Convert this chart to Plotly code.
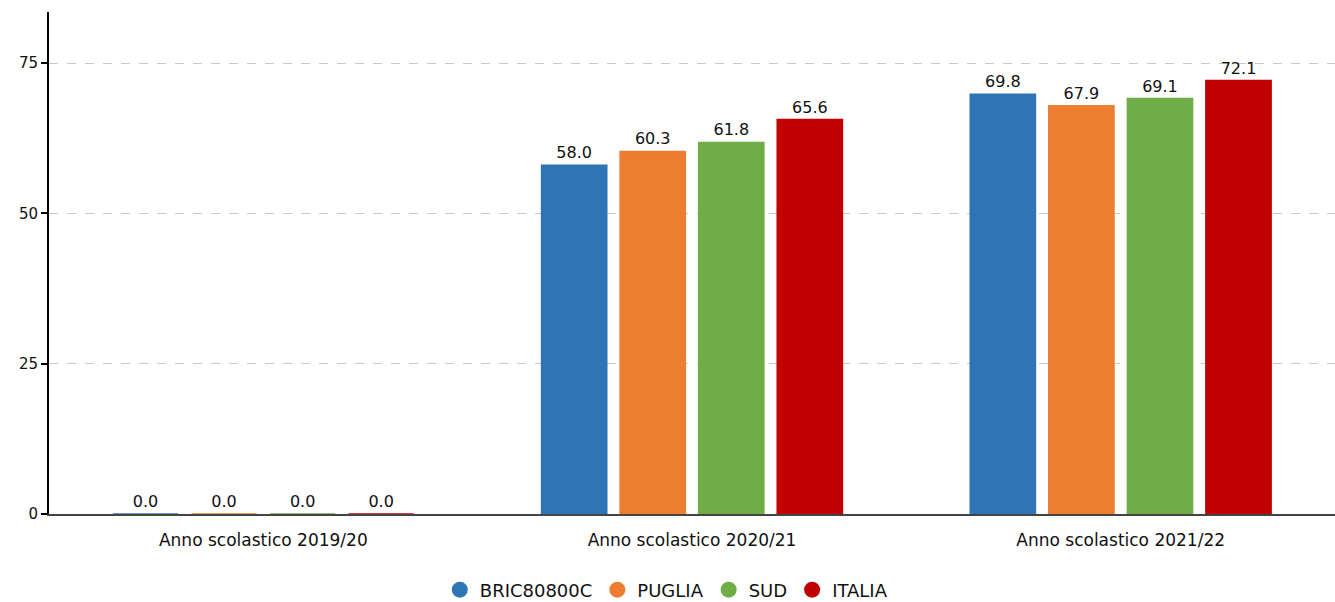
import plotly.graph_objects as go

categories = ["Anno scolastico 2019/20", "Anno scolastico 2020/21", "Anno scolastico 2021/22"]
series_names = ["BRIC80800C", "PUGLIA", "SUD", "ITALIA"]
bric = [0.0, 58.0, 69.8]
puglia = [0.0, 60.3, 67.9]
sud = [0.0, 61.8, 69.1]
italia = [0.0, 65.6, 72.1]
colors = ["#2E75B6", "#ED7D31", "#70AD47", "#C00000"]
y_ticks = [0, 25, 50, 75]

FONT = "DejaVu Sans"
fig = go.Figure()
for name, vals, col in zip(series_names, [bric, puglia, sud, italia], colors):
    fig.add_trace(go.Bar(
        x=categories, y=vals, name=name, marker_color=col, showlegend=False,
        marker_line=dict(color=col, width=1.5),
        text=[f"{v:.1f}" for v in vals], textposition="outside", cliponaxis=False,
        textfont=dict(family=FONT, size=16, color="#111"),
    ))
for name, col in zip(series_names, colors):
    fig.add_trace(go.Scatter(
        x=[None], y=[None], mode="markers", name=name,
        marker=dict(symbol="circle", size=16, color=col),
    ))

fig.update_layout(
    width=1335, height=602,
    margin=dict(l=49, r=0, t=12, b=88, autoexpand=False),
    paper_bgcolor="white", plot_bgcolor="white",
    barmode="group", bargap=0.267, bargroupgap=0.17,
    font=dict(family=FONT, size=16, color="#111"),
    legend=dict(orientation="h", x=0.48, xanchor="center",
                yref="container", y=0.02, yanchor="middle",
                font=dict(family=FONT, size=18, color="#111"), itemsizing="trace"),
    xaxis=dict(showline=True, linecolor="#444", linewidth=2, showgrid=False,
               ticks="outside", ticklen=10, tickcolor="rgba(0,0,0,0)", automargin=False,
               layer="below traces",
               tickfont=dict(family=FONT, size=17, color="#111")),
    yaxis=dict(range=[0, 83.5], tickvals=y_ticks, showline=True, linecolor="black",
               linewidth=2, ticks="outside", ticklen=6, tickcolor="black", tickwidth=2,
               showgrid=True, gridcolor="#c8c8c8", griddash="dash", gridwidth=1,
               zeroline=False, automargin=False,
               tickfont=dict(family=FONT, size=15, color="#111")),
)
fig.write_html("out.html", config={"displayModeBar": False},
               post_script="document.body.style.margin='0';")
